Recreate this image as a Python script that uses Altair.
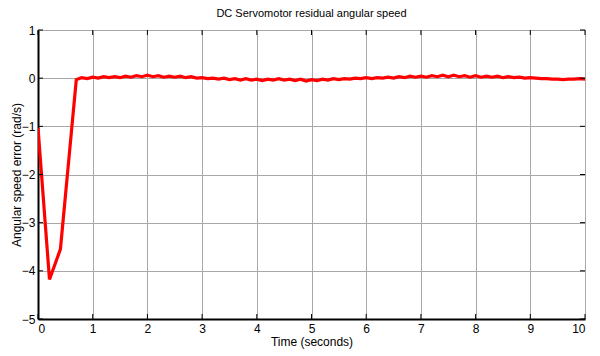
import altair as alt
import pandas as pd

# Transient part of the residual
t_transient = [0.0, 0.21, 0.41]
e_transient = [-1.03, -4.18, -3.55]

# Steady-state residual, sampled every 0.1 s from 0.7 s to 10 s
e_steady = [
    -0.03, 0.01, -0.01, 0.02, 0.00, 0.03, 0.01, 0.03, 0.01, 0.04,
    0.02, 0.05, 0.03, 0.06, 0.03, 0.05, 0.02, 0.04, 0.02, 0.04,
    0.01, 0.03, 0.00, 0.01, -0.01, 0.00, -0.02, 0.00, -0.03, -0.01,
    -0.04, -0.01, -0.04, -0.02, -0.05, -0.02, -0.04, -0.01, -0.04, -0.02,
    -0.05, -0.02, -0.06, -0.03, -0.05, -0.02, -0.04, -0.01, -0.03, -0.01,
    -0.02, 0.00, -0.01, 0.01, -0.01, 0.01, 0.00, 0.02, 0.00, 0.03,
    0.01, 0.04, 0.02, 0.04, 0.02, 0.05, 0.03, 0.06, 0.03, 0.06,
    0.03, 0.05, 0.02, 0.05, 0.02, 0.04, 0.02, 0.04, 0.01, 0.03,
    0.01, 0.02, 0.00, 0.01, 0.00, -0.01, -0.01, -0.02, -0.02, -0.03,
    -0.02, -0.02, -0.01, -0.02,
]
t_steady = [round(0.7 + 0.1 * i, 2) for i in range(len(e_steady))]

x_ticks = [0, 1, 2, 3, 4, 5, 6, 7, 8, 9, 10]
y_ticks = [-5, -4, -3, -2, -1, 0, 1]

W, H = 547, 289
FONT = "Liberation Sans"

df = pd.DataFrame({"t": t_transient + t_steady, "e": e_transient + e_steady})
dx = pd.DataFrame({"t": x_ticks})
dy = pd.DataFrame({"e": y_ticks})

xs = alt.Scale(domain=[0, 10], nice=False, zero=False)
ys = alt.Scale(domain=[-5, 1], nice=False, zero=False)

line = alt.Chart(df).mark_line(color="#ff0000", strokeWidth=3.2, strokeJoin="miter", clip=True).encode(
    x=alt.X("t:Q", scale=xs, title="Time (seconds)",
            axis=alt.Axis(values=x_ticks, format="d", grid=True, gridColor="#a8a8a8", gridWidth=1,
                          ticks=False, domainColor="black", domainWidth=2, labelPadding=4,
                          labelFont=FONT, labelFontSize=12, labelColor="black",
                          titleFont=FONT, titleFontSize=12, titleFontWeight="normal",
                          titleColor="black", titlePadding=2)),
    y=alt.Y("e:Q", scale=ys, title="Angular speed error (rad/s)",
            axis=alt.Axis(values=y_ticks, format="d", grid=True, gridColor="#a8a8a8", gridWidth=1,
                          ticks=False, domainColor="black", domainWidth=2, labelPadding=3,
                          labelFont=FONT, labelFontSize=12, labelColor="black",
                          titleFont=FONT, titleFontSize=12, titleFontWeight="normal",
                          titleColor="black", titlePadding=-2)),
    order="t:Q",
)

xt_bottom = alt.Chart(dx).mark_rule(color="black", strokeWidth=1).encode(
    x=alt.X("t:Q", scale=xs), y=alt.value(H), y2=alt.value(H - 5))
xt_top = alt.Chart(dx).mark_rule(color="black", strokeWidth=1).encode(
    x=alt.X("t:Q", scale=xs), y=alt.value(0), y2=alt.value(5))
yt_left = alt.Chart(dy).mark_rule(color="black", strokeWidth=1).encode(
    y=alt.Y("e:Q", scale=ys), x=alt.value(0), x2=alt.value(5))
yt_right = alt.Chart(dy).mark_rule(color="black", strokeWidth=1).encode(
    y=alt.Y("e:Q", scale=ys), x=alt.value(W), x2=alt.value(W - 5))

chart = alt.layer(line, xt_bottom, xt_top, yt_left, yt_right).properties(
    width=W, height=H,
    title=alt.TitleParams("DC Servomotor residual angular speed", font=FONT, fontSize=11,
                          fontWeight="normal", color="black", anchor="middle", offset=5),
    autosize=alt.AutoSizeParams(type="none"),
    padding={"left": 38, "top": 30, "right": 15, "bottom": 37},
).configure_view(stroke="black", strokeWidth=2).configure(background="white")

chart.save("out.html", embed_options={"renderer": "svg", "actions": False})
